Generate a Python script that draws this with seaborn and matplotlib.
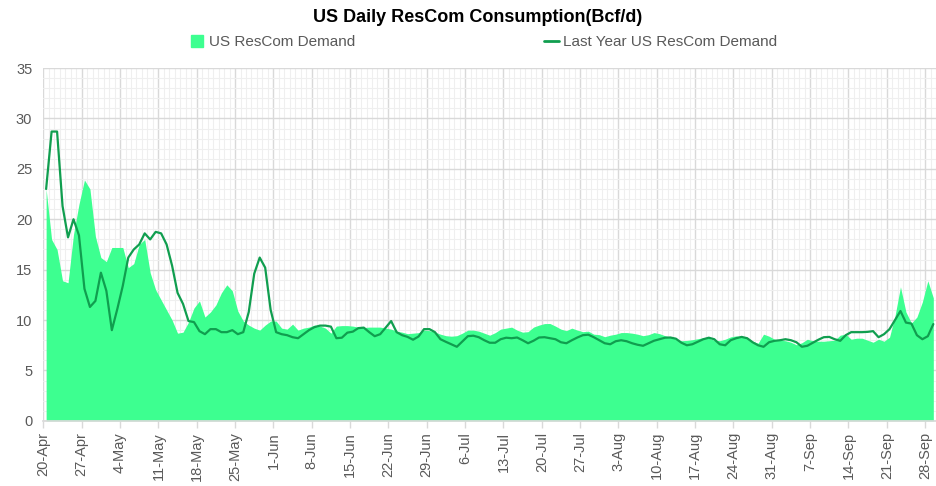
import numpy as np
import pandas as pd
import matplotlib
matplotlib.use("Agg")
import matplotlib.pyplot as plt
from matplotlib.ticker import MultipleLocator
from matplotlib.lines import Line2D
import seaborn as sns

# -- Data (Bcf/d, daily from 20-Apr) ---------------------------
START_DATE = "2020-04-20"

demand = [
    23.0, 18.0, 17.0, 13.9, 13.7, 18.5, 21.5, 23.9, 23.0, 18.3,
    16.2, 15.8, 17.2, 17.2, 17.2, 15.2, 15.6, 17.5, 18.0, 14.7,
    13.0, 12.0, 11.0, 10.0, 8.7, 8.8, 9.8, 11.2, 11.9, 10.3,
    10.8, 11.5, 12.7, 13.5, 12.9, 10.9, 9.9, 9.5, 9.2, 9.0,
    9.5, 9.9, 9.9, 9.2, 9.1, 9.6, 9.0, 9.2, 9.3, 9.5,
    9.4, 9.2, 8.7, 9.4, 9.45, 9.45, 9.4, 9.3, 9.26, 9.3,
    9.3, 9.3, 9.2, 9.1, 8.9, 8.8, 8.65, 8.7, 8.75, 9.0,
    8.95, 8.8, 8.6, 8.45, 8.4, 8.45, 8.7, 9.0, 9.0, 8.9,
    8.7, 8.5, 8.75, 9.1, 9.2, 9.3, 9.0, 8.8, 8.85, 9.3,
    9.5, 9.65, 9.66, 9.4, 9.1, 8.95, 9.2, 9.0, 8.85, 8.9,
    8.6, 8.55, 8.35, 8.5, 8.6, 8.76, 8.76, 8.7, 8.6, 8.45,
    8.55, 8.76, 8.65, 8.45, 8.3, 8.1, 7.95, 7.98, 8.05, 8.15,
    8.25, 8.2, 8.0, 7.95, 8.1, 8.33, 8.43, 8.35, 8.3, 7.9,
    7.7, 8.6, 8.4, 8.1, 8.0, 7.95, 7.8, 7.55, 7.75, 8.1,
    7.95, 7.9, 7.9, 7.95, 8.0, 8.5, 8.6, 8.1, 8.2, 8.2,
    8.0, 7.8, 8.1, 7.9, 8.3, 10.4, 13.3, 10.8, 9.7, 10.3,
    11.8, 13.9, 12.2,
]

last_year = [
    23.0, 28.7, 28.7, 21.3, 18.2, 20.0, 18.4, 13.1, 11.3, 11.9,
    14.7, 12.9, 9.0, 11.1, 13.4, 16.2, 17.0, 17.5, 18.6, 18.0,
    18.75, 18.6, 17.5, 15.4, 12.7, 11.6, 9.9, 9.8, 8.9, 8.6,
    9.1, 9.1, 8.8, 8.8, 9.0, 8.6, 8.8, 10.8, 14.6, 16.2,
    15.2, 11.0, 8.8, 8.6, 8.5, 8.3, 8.2, 8.6, 9.0, 9.3,
    9.45, 9.45, 9.35, 8.2, 8.25, 8.75, 8.85, 9.2, 9.25, 8.8,
    8.4, 8.6, 9.25, 9.9, 8.8, 8.5, 8.33, 8.05, 8.37, 9.1,
    9.1, 8.8, 8.1, 7.84, 7.6, 7.35, 7.87, 8.4, 8.45, 8.3,
    8.0, 7.75, 7.75, 8.1, 8.25, 8.2, 8.27, 8.0, 7.7, 7.95,
    8.27, 8.3, 8.2, 8.1, 7.8, 7.7, 8.0, 8.27, 8.5, 8.55,
    8.3, 8.0, 7.7, 7.6, 7.9, 8.0, 7.9, 7.7, 7.55, 7.45,
    7.7, 7.95, 8.1, 8.25, 8.27, 8.15, 7.75, 7.5, 7.6, 7.85,
    8.1, 8.25, 8.1, 7.6, 7.5, 8.0, 8.2, 8.33, 8.2, 7.8,
    7.5, 7.35, 7.8, 7.94, 8.0, 8.1, 8.0, 7.8, 7.35, 7.45,
    7.75, 8.05, 8.3, 8.33, 8.1, 7.94, 8.5, 8.8, 8.8, 8.8,
    8.83, 8.9, 8.3, 8.6, 9.1, 10.0, 10.9, 9.75, 9.65, 8.5,
    8.1, 8.4, 9.6,
]

AREA_COLOR = "#3dff90"
LINE_COLOR = "#109e4f"
GRID_MAJOR = "#d9d9d9"
GRID_MINOR = "#efefef"
TEXT_GRAY  = "#595959"

n = len(demand)
dates = pd.date_range(START_DATE, periods=n, freq="D")
df = pd.DataFrame({
    "pos": np.arange(n) + 0.5,
    "demand": demand,
    "last_year": last_year,
})

sns.set_theme(style="white")
plt.rcParams["font.family"] = ["Liberation Sans", "DejaVu Sans"]

fig = plt.figure(figsize=(9.37, 4.86), dpi=100)
ax = fig.add_axes([0.0463, 0.134, 0.9527, 0.726])

ax.fill_between(df["pos"], 0, df["demand"], color=AREA_COLOR, lw=0, zorder=2)
sns.lineplot(data=df, x="pos", y="last_year", color=LINE_COLOR,
             linewidth=1.6, ax=ax, zorder=3)

# -- Axes -------------------------------------------------------
ax.set_xlim(0, n)
ax.set_ylim(0, 35)
tick_idx = np.arange(0, n, 7)
ax.set_xticks(tick_idx)
ax.set_xticklabels([f"{d.day}-{d.strftime('%b')}" for d in dates[tick_idx]],
                   rotation=90, fontsize=10.5, color=TEXT_GRAY)
ax.set_yticks(np.arange(0, 36, 5))
ax.set_yticklabels([str(v) for v in range(0, 36, 5)], fontsize=10.5,
                   color=TEXT_GRAY)
ax.xaxis.set_minor_locator(MultipleLocator(1))
ax.yaxis.set_minor_locator(MultipleLocator(1))
ax.grid(which="minor", color=GRID_MINOR, linewidth=0.8)
ax.grid(which="major", color=GRID_MAJOR, linewidth=1.0)
ax.set_axisbelow(True)
ax.tick_params(axis="x", which="major", length=5, color=GRID_MAJOR,
               width=1, pad=3, bottom=True)
ax.tick_params(axis="x", which="minor", length=0)
ax.tick_params(axis="y", which="both", length=0, pad=8)
ax.set_xlabel("")
ax.set_ylabel("")
for side in ["top", "right", "left"]:
    ax.spines[side].set_visible(False)
ax.spines["bottom"].set_color(GRID_MAJOR)

# -- Title and legend ------------------------------------------
fig.text(0.51, 0.963, "US Daily ResCom Consumption(Bcf/d)",
         ha="center", va="center", fontsize=13, fontweight="bold",
         color="black")
handles = [
    Line2D([0], [0], marker="s", linestyle="none", markersize=9,
           markerfacecolor=AREA_COLOR, markeredgecolor=AREA_COLOR),
    Line2D([0], [0], color=LINE_COLOR, linewidth=2),
]
fig.legend(handles, ["US ResCom Demand", "Last Year US ResCom Demand"],
           loc="center", bbox_to_anchor=(0.516, 0.913), ncol=2,
           frameon=False, fontsize=11, handlelength=1.0,
           handletextpad=0.3, columnspacing=12.3, labelcolor=TEXT_GRAY)

fig.savefig("out.png", dpi=100)
